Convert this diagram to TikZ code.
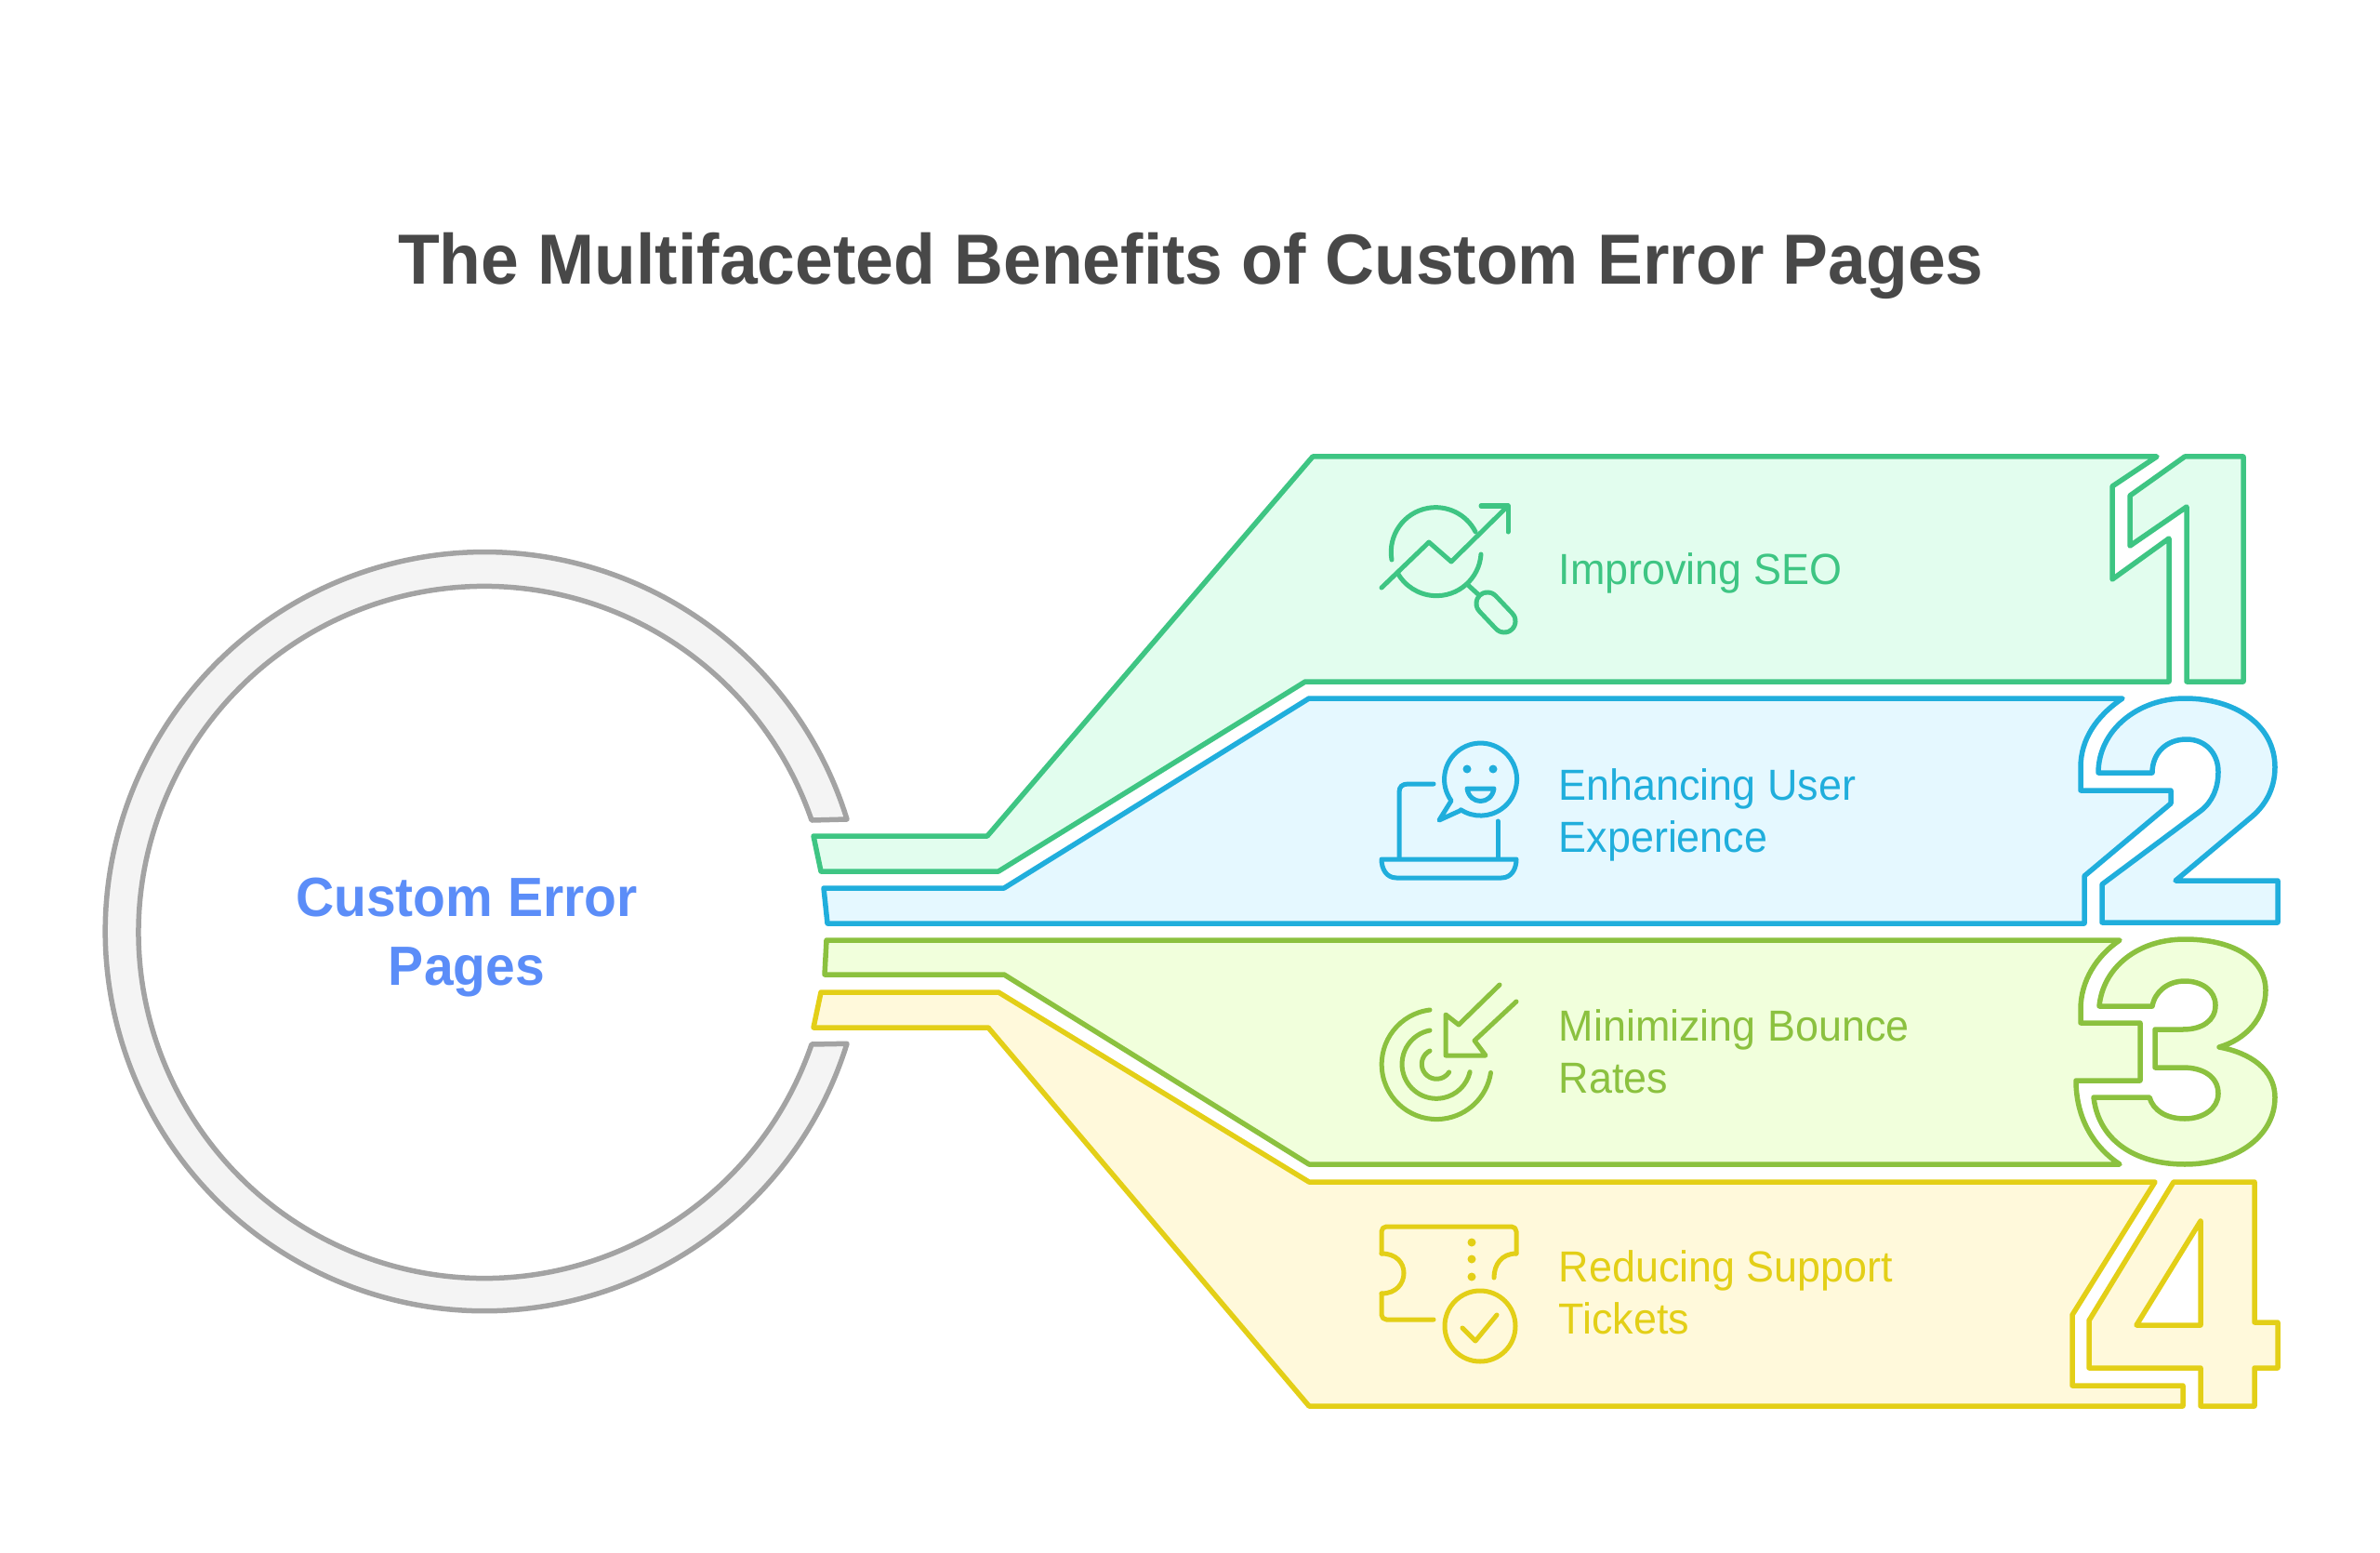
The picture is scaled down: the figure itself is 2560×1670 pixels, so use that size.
\documentclass[tikz,border=0pt]{standalone}
\usepackage{fontspec}
\setmainfont{Liberation Sans}[FakeStretch=0.96]
\definecolor{titlegray}{HTML}{484848}
\definecolor{ringline}{HTML}{A3A3A3}
\definecolor{ringfill}{HTML}{F4F4F4}
\definecolor{hubblue}{HTML}{5B8DF8}
\definecolor{seoline}{HTML}{3EC583}
\definecolor{seofill}{HTML}{E2FDEE}
\definecolor{uxline}{HTML}{20AEDC}
\definecolor{uxfill}{HTML}{E5F8FF}
\definecolor{rateline}{HTML}{8BC13F}
\definecolor{ratefill}{HTML}{F1FFDC}
\definecolor{ticketline}{HTML}{E3CF17}
\definecolor{ticketfill}{HTML}{FFF9DB}
\tikzset{
  band/.style n args={2}{draw=#1,fill=#2,line width=0.055cm,line join=round,even odd rule},
  icon/.style={draw=#1,line width=0.05cm,line cap=round,line join=round},
  itemtext/.style={text=#1,font=\fontsize{13.3}{15.9}\selectfont,anchor=west,align=left,inner sep=0pt},
}
\begin{document}
\begin{tikzpicture}[x=0.01cm,y=-0.01cm]
\useasboundingbox (0,0) rectangle (2560,1670);

\node[text=titlegray,font=\fontsize{21.7}{26}\selectfont\bfseries,anchor=base] (title) at (1281,306) {The Multifaceted Benefits of Custom Error Pages};

\draw[band={ringline}{ringfill}]
(911,881) arc[start angle=-17.2,end angle=-342.8,radius=408]
-- (873,1123) arc[start angle=-341.1,end angle=-18.9,radius=372] -- cycle;
\node[text=hubblue,font=\fontsize{16.9}{21}\selectfont\bfseries,align=center] (hub) at (502,1008) {Custom Error\\Pages};

\draw[band={seoline}{seofill}]
(1412,491) -- (2320,491) -- (2272,523) -- (2272,623) -- (2333,579) -- (2333,733) -- (1404,733)
-- (1074,937) -- (883,937) -- (875,899) -- (1062,899) -- cycle;
\draw[band={seoline}{seofill}]
(2350,491) -- (2413,491) -- (2413,733) -- (2352,733) -- (2352,545) -- (2291,587) -- (2291,533) -- cycle;

\draw[band={uxline}{uxfill}]
(1408,751) -- (2283,751) .. controls (2255,770) and (2238,795) .. (2238,825) -- (2238,850) -- (2335,850) -- (2335,864)
-- (2242,942) -- (2242,993) -- (890,993) -- (886,955) -- (1080,955) -- cycle;
\draw[band={uxline}{uxfill}]
(2257,831) .. controls (2257,785) and (2300,751) .. (2350,751) .. controls (2405,751) and (2447,780) .. (2447,825)
.. controls (2447,850) and (2435,868) .. (2420,880) -- (2340,947) -- (2450,947) -- (2450,992) -- (2261,992) -- (2261,951)
-- (2367,872) .. controls (2380,862) and (2386,847) .. (2386,830) .. controls (2386,810) and (2372,795) .. (2352,795)
.. controls (2330,795) and (2315,810) .. (2315,831) -- cycle;

\draw[band={rateline}{ratefill}]
(889,1011) -- (2280,1011) .. controls (2255,1028) and (2238,1055) .. (2238,1085) -- (2238,1100) -- (2302,1100) -- (2302,1162)
-- (2233,1162) .. controls (2233,1200) and (2250,1232) .. (2280,1252) -- (1408,1252) -- (1080,1048) -- (887,1048) -- cycle;
\draw[band={rateline}{ratefill}]
(2258,1082) .. controls (2262,1040) and (2300,1010) .. (2350,1010) .. controls (2400,1010) and (2437,1030) .. (2437,1065)
.. controls (2437,1095) and (2415,1118) .. (2387,1126) .. controls (2420,1132) and (2447,1150) .. (2447,1180)
.. controls (2447,1222) and (2405,1252) .. (2350,1252) .. controls (2295,1252) and (2257,1225) .. (2252,1180)
-- (2312,1180) .. controls (2316,1194) and (2330,1203) .. (2350,1203) .. controls (2370,1203) and (2386,1192) .. (2386,1176)
.. controls (2386,1158) and (2370,1148) .. (2348,1148) -- (2318,1148) -- (2318,1107) -- (2348,1107)
.. controls (2368,1107) and (2383,1098) .. (2383,1081) .. controls (2383,1065) and (2368,1055) .. (2350,1055)
.. controls (2332,1055) and (2318,1066) .. (2315,1082) -- cycle;

\draw[band={ticketline}{ticketfill}]
(1408,1271) -- (2318,1271) -- (2229,1414) -- (2229,1490) -- (2348,1490) -- (2348,1512) -- (1408,1512)
-- (1063,1105) -- (875,1105) -- (883,1067) -- (1074,1067) -- cycle;
\draw[band={ticketline}{ticketfill}]
(2338,1271) -- (2425,1271) -- (2425,1422) -- (2450,1422) -- (2450,1471) -- (2425,1471) -- (2425,1512) -- (2367,1512)
-- (2367,1471) -- (2247,1471) -- (2247,1420) -- cycle
(2367,1313) -- (2367,1425) -- (2298,1425) -- cycle;

\node[itemtext=seoline] (seo) at (1676,616) {Improving SEO};
\node[itemtext=uxline] (ux) at (1676,876) {Enhancing User\\Experience};
\node[itemtext=rateline] (rate) at (1676,1131) {Minimizing Bounce\\Rates};
\node[itemtext=ticketline] (ticket) at (1676,1390) {Reducing Support\\Tickets};

\draw[icon=seoline] (1497,602) arc[start angle=170,end angle=333,radius=48];
\draw[icon=seoline] (1593,596) arc[start angle=4,end angle=151,radius=48];
\draw[icon=seoline] (1486,632) -- (1537,583) -- (1561,604) -- (1622,544);
\draw[icon=seoline] (1593,544) -- (1622,544) -- (1622,572);
\draw[icon=seoline] (1580,630) -- (1592,641);
\draw[seoline,line width=0.29cm,line cap=round] (1600,649) -- (1618,668);
\draw[seofill,line width=0.19cm,line cap=round] (1600,649) -- (1618,668);

\draw[icon=uxline] (1570,872) -- (1548,882) -- (1561,861) arc[start angle=144,end angle=483,radius=39];
\fill[uxline] (1578,827) circle[radius=4.5] (1606,827) circle[radius=4.5];
\draw[icon=uxline] (1578,848) -- (1607,848) .. controls (1604,866) and (1581,866) .. (1578,848) -- cycle;
\draw[icon=uxline] (1542,843) -- (1515,843) .. controls (1508,843) and (1505,846) .. (1505,852) -- (1505,923);
\draw[icon=uxline] (1611,883) -- (1611,923);
\draw[icon=uxline] (1486,924) -- (1631,924) .. controls (1631,934) and (1626,944) .. (1615,944) -- (1502,944) .. controls (1491,944) and (1486,934) .. (1486,924) -- cycle;

\draw[icon=rateline] (1538,1086) arc[start angle=263,end angle=8.7,radius=59];
\draw[icon=rateline] (1538,1108) arc[start angle=259,end angle=13,radius=37];
\draw[icon=rateline] (1538,1130) arc[start angle=243,end angle=33,radius=16];
\draw[icon=rateline] (1613,1059) -- (1569,1102) -- (1555,1091) -- (1555,1135) -- (1598,1135) -- (1586,1119) -- (1631,1077);

\draw[icon=ticketline,rounded corners=1.5pt] (1542,1419) -- (1486,1419) -- (1486,1391);
\draw[icon=ticketline] (1486,1391) .. controls (1502,1391) and (1510,1380) .. (1510,1369) .. controls (1510,1358) and (1502,1348) .. (1486,1348);
\draw[icon=ticketline,rounded corners=1.5pt] (1486,1348) -- (1486,1319) -- (1631,1319) -- (1631,1348);
\draw[icon=ticketline] (1631,1348) .. controls (1615,1348) and (1607,1360) .. (1607,1374);
\fill[ticketline] (1583,1336) circle[radius=4.5] (1583,1354) circle[radius=4.5] (1583,1373) circle[radius=4.5];
\draw[icon=ticketline] (1592,1426) circle[radius=38];
\draw[icon=ticketline] (1573,1428) -- (1587,1442) -- (1610,1414);
\end{tikzpicture}
\end{document}
